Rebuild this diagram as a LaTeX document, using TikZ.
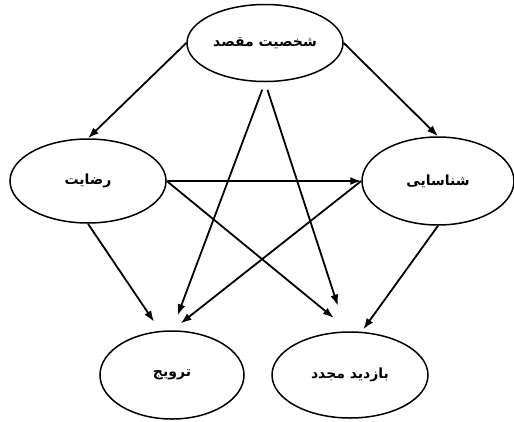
\documentclass[tikz,border=0pt]{standalone}
\usepackage{fontspec}
\newfontfamily\arabicfont[Script=Arabic]{DejaVu Sans}
\TeXXeTstate=1
\usepackage{tikz}
\usetikzlibrary{shapes.geometric,arrows.meta}

\begin{document}
\begin{tikzpicture}[x=1pt, y=-1pt, >={Latex[length=11pt,width=8pt]},
    oval/.style={draw, ellipse, line width=1.5pt, inner sep=0pt, font=\arabicfont\bfseries\fontsize{14}{17}\selectfont},
    link/.style={->, line width=1.8pt}]
    \useasboundingbox (0,0) rectangle (514,421);

    % Nodes
    \node[oval, minimum width=156pt, minimum height=77pt] (Dest) at (265,43) {\beginR شخصیت مقصد\endR};
    \node[oval, minimum width=156pt, minimum height=84pt] (Sat) at (88,181) {\beginR رضایت\endR};
    \node[oval, minimum width=152pt, minimum height=88pt] (Aware) at (438,181) {\beginR شناسایی\endR};
    \node[oval, minimum width=144pt, minimum height=88pt] (Promo) at (172,375) {\beginR ترویج\endR};
    \node[oval, minimum width=156pt, minimum height=86pt] (Revisit) at (350,375) {\beginR بازدید مجدد\endR};

    % Outer arrows from the top
    \draw[link] (Dest.west) -- (Sat.north);
    \draw[link] (Dest.east) -- (Aware.north);

    % Star lines
    \draw[link, shorten <=8pt, shorten >=16pt] (Dest.south) -- (Promo.north);
    \draw[link, shorten <=8pt, shorten >=27pt] (Dest.south) -- (Revisit.95);
    \draw[link] (Sat.east) -- (Aware.west);
    \draw[link, shorten >=21pt] (Sat.east) -- (Revisit.north);
    \draw[link, shorten >=11pt] (Aware.west) -- (Promo.north);

    % Side arrows down
    \draw[link, shorten >=11pt] (Sat.south) -- (Promo.105);
    \draw[link, shorten >=3pt] (Aware.south) -- (Revisit.75);
\end{tikzpicture}
\end{document}
